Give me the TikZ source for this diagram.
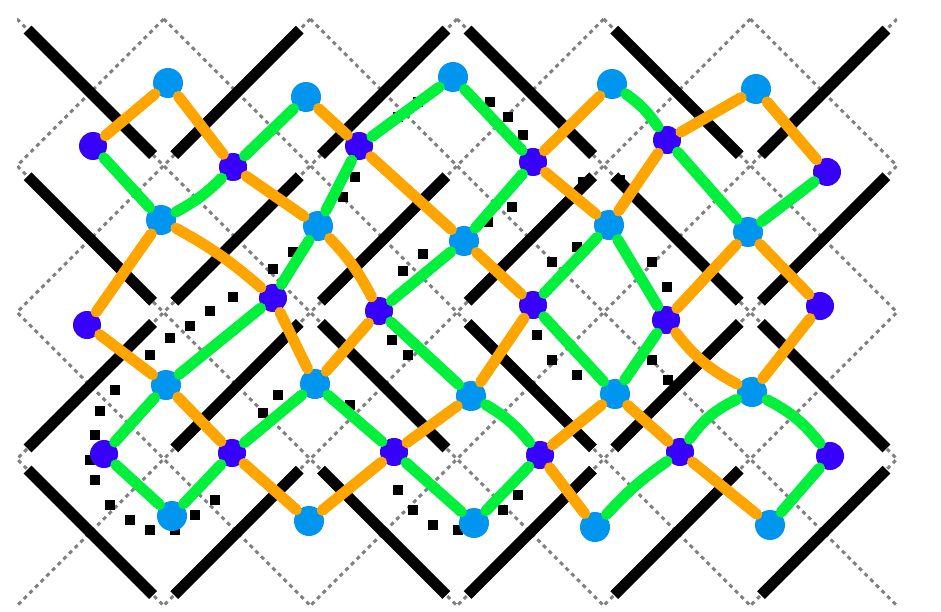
\documentclass[tikz,border=0pt]{standalone}
\usepackage{tikz}

\definecolor{hellblau}{RGB}{0,150,240}
\definecolor{dunkelblau}{RGB}{55,0,250}
\definecolor{bondgruen}{RGB}{0,240,60}
\definecolor{bondorange}{RGB}{255,165,0}

\begin{document}
\begin{tikzpicture}[x=1pt, y=-1pt,
  gitter/.style={draw=gray, line width=3pt, dash pattern=on 4pt off 4pt},
  wand/.style={draw=black, line width=11pt, shorten <=15pt, shorten >=15pt},
  hell/.style={circle, fill=hellblau, minimum size=30pt, inner sep=0pt, outer sep=2pt},
  dunkel/.style={circle, fill=dunkelblau, minimum size=28pt, inner sep=0pt, outer sep=2pt},
  gbond/.style={draw=bondgruen, line width=11pt, line cap=round},
  obond/.style={draw=bondorange, line width=11pt, line cap=round}
]
  \useasboundingbox (0,0) rectangle (941,612);

  % Gitter
  \begin{scope}
    \clip (17,19) rectangle (897,605.7);
    \foreach \k in {-8,-6,...,12} {\draw[gitter] ({17+73.33*\k},19) -- ++(586.7,586.7);}
    \foreach \k in {0,2,...,20} {\draw[gitter] ({17+73.33*\k},19) -- ++(-586.7,586.7);}
  \end{scope}

  % Waende
  \foreach \c/\r/\s in {0/0/1, 1/0/-1, 2/0/-1, 3/0/1, 4/0/1, 5/0/-1,
                        0/1/1, 1/1/-1, 2/1/-1, 3/1/-1, 4/1/1, 5/1/-1,
                        0/2/-1, 1/2/-1, 2/2/1, 3/2/1, 4/2/-1, 5/2/1,
                        0/3/1, 1/3/-1, 2/3/1, 3/3/-1, 4/3/-1, 5/3/-1}
    {\draw[wand] ({17+146.67*\c},{19+146.67*\r+73.33*(1-\s)}) -- ++(146.67,{146.67*\s});}

  % Punkte
  \foreach \x/\y in {418/102, 398/117, 490/102, 508/117, 523/135,
                     355/177, 343/197, 583/182, 620/180, 512/207, 488/222,
                     577/247, 552/262, 423/254, 403/271, 652/262, 667/287,
                     293/252, 273/269, 233/297, 210/311, 190/326, 170/338, 150/355,
                     115/390, 100/411, 95/435, 90/460, 95/480, 110/505, 130/520,
                     150/530, 175/530, 195/515, 215/500, 278/395, 263/413,
                     392/340, 408/355, 537/335, 552/360, 577/375, 652/360, 668/380,
                     350/405, 398/490, 413/510, 433/525, 458/530, 503/510, 518/495}
    {\fill ({\x-5},{\y-5}) rectangle ++(10,10);}

  % Knoten hell
  \node[hell] (l1) at (168,83) {};
  \node[hell] (l2) at (306,97) {};
  \node[hell] (l3) at (453,77) {};
  \node[hell] (l4) at (612,84) {};
  \node[hell] (l5) at (756,89) {};
  \node[hell] (l6) at (161,220) {};
  \node[hell] (l7) at (318,226) {};
  \node[hell] (l8) at (464,241) {};
  \node[hell] (l9) at (609,225) {};
  \node[hell] (l10) at (748,232) {};
  \node[hell] (l11) at (166,385) {};
  \node[hell] (l12) at (315,384) {};
  \node[hell] (l13) at (471,396) {};
  \node[hell] (l14) at (615,394) {};
  \node[hell] (l15) at (752,392) {};
  \node[hell] (l16) at (172,516) {};
  \node[hell] (l17) at (309,521) {};
  \node[hell] (l18) at (474,523) {};
  \node[hell] (l19) at (595,527) {};
  \node[hell] (l20) at (770,525) {};

  % Knoten dunkel
  \node[dunkel] (d1) at (93,146) {};
  \node[dunkel] (d2) at (233,167) {};
  \node[dunkel] (d3) at (359,146) {};
  \node[dunkel] (d4) at (533,162) {};
  \node[dunkel] (d5) at (667,140) {};
  \node[dunkel] (d6) at (827,172) {};
  \node[dunkel] (d7) at (87,325) {};
  \node[dunkel] (d8) at (273,298) {};
  \node[dunkel] (d9) at (379,311) {};
  \node[dunkel] (d10) at (533,305) {};
  \node[dunkel] (d11) at (666,320) {};
  \node[dunkel] (d12) at (820,306) {};
  \node[dunkel] (d13) at (104,454) {};
  \node[dunkel] (d14) at (232,453) {};
  \node[dunkel] (d15) at (394,452) {};
  \node[dunkel] (d16) at (540,455) {};
  \node[dunkel] (d17) at (680,452) {};
  \node[dunkel] (d18) at (830,456) {};

  % Bindungen orange
  \foreach \a/\b/\w in {d1/l1/0, d2/l1/0, d2/l7/0, l2/d3/0, d3/l8/0,
                        d4/l4/0, d4/l9/0, d5/l5/0, l5/d6/0, d5/l9/0,
                        l6/d7/0, l6/d8/6, d7/l11/0, d8/l12/0, l7/d9/8,
                        l8/d10/0, d11/l10/0, l10/d12/0, d9/l12/0, d10/l13/0,
                        d11/l15/-12, d12/l15/0, l11/d14/0, d14/l17/0, d15/l17/0,
                        l13/d15/0, d16/l19/0, l14/d16/0, l14/d17/0, d17/l20/0}
    {\draw[obond] (\a) to[bend left=\w] (\b);}

  % Bindungen gruen
  \foreach \a/\b/\w in {d1/l6/0, d2/l2/0, d2/l6/8, d3/l3/0, l3/d4/0,
                        d3/l7/0, d4/l8/0, l4/d5/10, d5/l10/0, d6/l10/0,
                        l7/d8/0, d8/l11/0, d9/l8/0, d10/l9/0, l9/d11/0,
                        d9/l13/0, d10/l14/0, d11/l14/0, l11/d13/0, l12/d14/0,
                        d13/l16/0, d14/l16/0, l12/d15/0, d15/l18/0, l13/d16/10,
                        d16/l18/0, l15/d17/-14, l15/d18/12, d18/l20/0, d17/l19/-6}
    {\draw[gbond] (\a) to[bend left=\w] (\b);}
\end{tikzpicture}
\end{document}
